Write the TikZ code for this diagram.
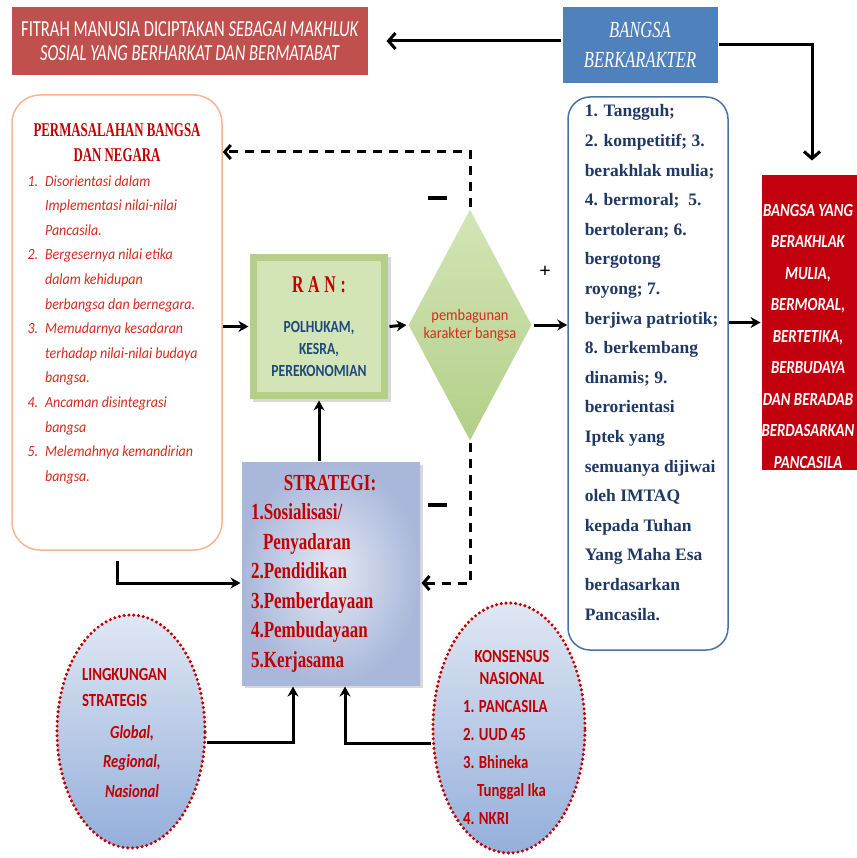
\documentclass[tikz,border=0pt]{standalone}
\usepackage{fontspec}
\setmainfont{Liberation Serif}
\setsansfont{Carlito}
\newfontfamily\fitrahfont{Carlito}[FakeStretch=0.72]
\newfontfamily\bangsafont{Liberation Serif}[FakeStretch=0.72]
\newfontfamily\stratfont{Liberation Serif}[FakeStretch=0.74]
\newfontfamily\judulfont{Liberation Serif}[FakeStretch=0.66]
\newfontfamily\condsans{Carlito}[FakeStretch=0.8]
\newfontfamily\itemfont{Carlito}[FakeStretch=0.9]
\usetikzlibrary{positioning,arrows.meta,shapes.geometric,shadows}

\definecolor{fitrahred}{HTML}{C0504D}
\definecolor{bangsablue}{HTML}{4F81BD}
\definecolor{akhlakred}{HTML}{C3000E}
\definecolor{darkred}{HTML}{C00000}
\definecolor{itemred}{HTML}{D52B1E}
\definecolor{navy}{HTML}{1F3864}
\definecolor{polblue}{HTML}{1F497D}
\definecolor{peach}{HTML}{F9B590}
\definecolor{steel}{HTML}{4A72A8}
\definecolor{rangreen}{HTML}{B3CF88}
\definecolor{ranlight}{HTML}{D3E5B7}
\definecolor{stratblue}{HTML}{A9B7DA}
\definecolor{stratlight}{HTML}{E3E8F4}
\definecolor{elltop}{HTML}{DFE7F3}
\definecolor{ellbot}{HTML}{94AFDB}

\begin{document}
\begin{tikzpicture}[x=1pt,y=-1pt,line width=3pt,
      arr/.style={-{Stealth[length=10pt,width=11pt]}},
      barb/.style={-{Straight Barb[length=7pt,width=16pt]}},
      dsh/.style={dash pattern=on 9pt off 7pt,-{Straight Barb[length=6pt,width=14pt]}},
      fitrahbox/.style={rectangle,fill=fitrahred,text=white,minimum width=356pt,minimum height=68pt,
        align=center,font=\fitrahfont\fontsize{23}{24}\selectfont},
      bangsabox/.style={rectangle,fill=bangsablue,text=white,minimum width=155pt,minimum height=76pt,
        align=center,font=\bangsafont\itshape\fontsize{23}{30}\selectfont},
      akhlakbox/.style={rectangle,fill=akhlakred,minimum width=100pt,minimum height=295pt},
      akhlaktext/.style={text=white,align=center,inner sep=0pt,
        font=\condsans\bfseries\itshape\fontsize{18.5}{31.5}\selectfont},
      masalahbox/.style={rectangle,rounded corners=28pt,draw=peach,line width=1.5pt,fill=white,
        minimum width=210pt,minimum height=455pt},
      ciribox/.style={rectangle,rounded corners=22pt,draw=steel,line width=1.5pt,fill=white,
        minimum width=160pt,minimum height=553pt},
      ciritext/.style={align=left,inner sep=0pt,text=navy,
        font=\rmfamily\bfseries\fontsize{17.5}{29.6}\selectfont},
      ranbox/.style={rectangle,fill=rangreen,minimum width=138pt,minimum height=145pt,align=center,
        drop shadow={opacity=0.3,shadow xshift=3pt,shadow yshift=-3pt},
        path picture={\fill[ranlight] ([shift={(7pt,-7pt)}]path picture bounding box.north west)
          rectangle ([shift={(-7pt,7pt)}]path picture bounding box.south east);},
        font=\condsans\bfseries\fontsize{17}{22}\selectfont,text=polblue},
      diam/.style={diamond,inner sep=0pt,minimum width=124pt,minimum height=232pt,
        top color=ranlight,bottom color=rangreen},
      stratbox/.style={rectangle,inner color=stratlight,outer color=stratblue,
        minimum width=178pt,minimum height=223pt,text width=160pt,align=left,
        drop shadow={opacity=0.3,shadow xshift=3pt,shadow yshift=-3pt},
        text=darkred,font=\stratfont\bfseries\fontsize{23}{29.5}\selectfont},
      ell/.style={ellipse,inner sep=0pt,draw=darkred,line width=3.4pt,dash pattern=on 0pt off 4.8pt,
        line cap=round,top color=elltop,bottom color=ellbot},
      elltext/.style={align=left,inner sep=0pt,text=darkred,
        font=\condsans\bfseries\fontsize{18.5}{29.5}\selectfont},
      sign/.style={inner sep=0pt,font=\rmfamily\bfseries\fontsize{20}{20}\selectfont}]

  \useasboundingbox (0,0) rectangle (856,858);

  % top row
  \node[fitrahbox] (fitrah) at (190,41)
    {FITRAH MANUSIA DICIPTAKAN \textit{SEBAGAI MAKHLUK}\\\textit{SOSIAL YANG BERHARKAT DAN BERMATABAT}};
  \node[bangsabox] (bangsa) at (640,45) {BANGSA\\BERKARAKTER};
  \node[akhlakbox] (akhlak) at (812,322.5) {};
  \node[akhlaktext] (akhlakisi) at (808,336)
    {BANGSA YANG\\BERAKHLAK\\MULIA,\\BERMORAL,\\BERTETIKA,\\BERBUDAYA\\DAN BERADAB\\BERDASARKAN\\PANCASILA};

  \draw[barb,shorten >=17pt] (bangsa.west |- fitrah) -- (fitrah.east);
  \draw[barb,shorten >=13pt] (bangsa.east) -| (akhlak.north);

  % permasalahan
  \node[masalahbox] (masalah) at (117,322.5) {};
  \node[below=24pt of masalah.north,inner sep=0pt,font=\fontsize{15.5}{24.6}\selectfont] (masalahisi) {%
    \begin{tabular}{@{}l@{\hspace{7pt}}l@{}}
      \multicolumn{2}{c}{\judulfont\bfseries\color{darkred}\fontsize{19.5}{24.6}\selectfont PERMASALAHAN BANGSA}\\
      \multicolumn{2}{c}{\judulfont\bfseries\color{darkred}\fontsize{19.5}{24.6}\selectfont DAN NEGARA}\\
      \color{itemred}\itemfont\itshape 1. & \color{itemred}\itemfont\itshape Disorientasi dalam\\
      & \color{itemred}\itemfont\itshape Implementasi nilai-nilai\\
      & \color{itemred}\itemfont\itshape Pancasila.\\
      \color{itemred}\itemfont\itshape 2. & \color{itemred}\itemfont\itshape Bergesernya nilai etika\\
      & \color{itemred}\itemfont\itshape dalam kehidupan\\
      & \color{itemred}\itemfont\itshape berbangsa dan bernegara.\\
      \color{itemred}\itemfont\itshape 3. & \color{itemred}\itemfont\itshape Memudarnya kesadaran\\
      & \color{itemred}\itemfont\itshape terhadap nilai-nilai budaya\\
      & \color{itemred}\itemfont\itshape bangsa.\\
      \color{itemred}\itemfont\itshape 4. & \color{itemred}\itemfont\itshape Ancaman disintegrasi\\
      & \color{itemred}\itemfont\itshape bangsa\\
      \color{itemred}\itemfont\itshape 5. & \color{itemred}\itemfont\itshape Melemahnya kemandirian\\
      & \color{itemred}\itemfont\itshape bangsa.
    \end{tabular}};

  % middle row
  \node[ranbox] (ran) at (319,326.5)
    {{\judulfont\bfseries\fontsize{24}{24}\selectfont\addfontfeature{LetterSpace=20}\color{darkred}RAN:}\\[18pt]POLHUKAM,\\KESRA,\\PEREKONOMIAN};
  \node[diam] (karakter) at (470,325) {};
  \node[inner sep=0pt,align=center,text=itemred,font=\itemfont\fontsize{16}{18}\selectfont] (karaktertext)
    at (karakter) {pembagunan\\karakter bangsa};
  \node[ciribox] (ciri) at (648,373.5) {};
  \node[ciritext,below right=7pt and 16pt of ciri.north west] (ciriisi)
    {1. Tangguh;\\2. kompetitif; 3.\\berakhlak mulia;\\4. bermoral;\ \ 5.\\bertoleran; 6.\\bergotong\\royong; 7.\\berjiwa patriotik;\\8. berkembang\\dinamis; 9.\\berorientasi\\Iptek yang\\semuanya dijiwai\\oleh IMTAQ\\kepada Tuhan\\Yang Maha Esa\\berdasarkan\\Pancasila.};

  \draw[arr] (masalah.east |- ran) -- (ran.west);
  \draw[arr] (ran.east) -- (karakter.west);
  \draw[arr] (karakter.east) -- (karakter.east -| ciri.west);
  \draw[arr] (ciri.east |- akhlak.west) -- (akhlak.west);

  % strategi
  \node[stratbox] (strategi) at (331,573.5)
    {\makebox[158pt]{STRATEGI:}\\1.Sosialisasi/\\\hspace*{12pt}Penyadaran\\2.Pendidikan\\3.Pemberdayaan\\4.Pembudayaan\\5.Kerjasama};
  \draw[arr] (ran.south |- strategi.north) -- (ran.south);
  \draw[arr] ([yshift=-10pt]masalah.south) |- ([yshift=-9.5pt]strategi.west);

  % umpan balik
  \coordinate (dtop) at (karakter.north |- 0,152);
  \coordinate (dbot) at (karakter.south |- 0,583);
  \draw[dsh] (karakter.north) -- (dtop) -- (dtop -| masalah.east);
  \draw[dsh] (karakter.south) -- (dbot) -- (dbot -| strategi.east);
  \node[sign] (mintop) at (437,198) {\rule{19pt}{3.5pt}};
  \node[sign] (minbot) at (437,505) {\rule{19pt}{3.5pt}};
  \node[sign] (plus) at (545,272) {+};

  % lingkungan dan konsensus
  \node[ell,minimum width=148pt,minimum height=233pt] (lingk) at (131,731.5) {};
  \node[elltext] (lingkisi) at ([shift={(-6.5pt,-1.5pt)}]lingk.center)
    {LINGKUNGAN\\[-3.5pt]STRATEGIS\\[2pt]\hspace*{28pt}\textit{Global,}\\\hspace*{21pt}\textit{Regional,}\\\hspace*{23pt}\textit{Nasional}};
  \node[ell,minimum width=152pt,minimum height=250pt] (kons) at (509,728) {};
  \node[elltext,font=\condsans\bfseries\fontsize{18.5}{28}\selectfont] (konsisi)
    at ([shift={(3pt,-9.5pt)}]kons.center)
    {\makebox[98pt]{KONSENSUS}\\[-6pt]\makebox[98pt]{NASIONAL}\\1. PANCASILA\\2. UUD 45\\3. Bhineka\\\hspace*{14pt}Tunggal Ika\\4. NKRI};

  \draw[arr] ([yshift=-11pt]lingk.east) -| ([xshift=-38pt]strategi.south);
  \draw[arr] ([yshift=-15pt]kons.west) -| ([xshift=14pt]strategi.south);

\end{tikzpicture}
\end{document}
